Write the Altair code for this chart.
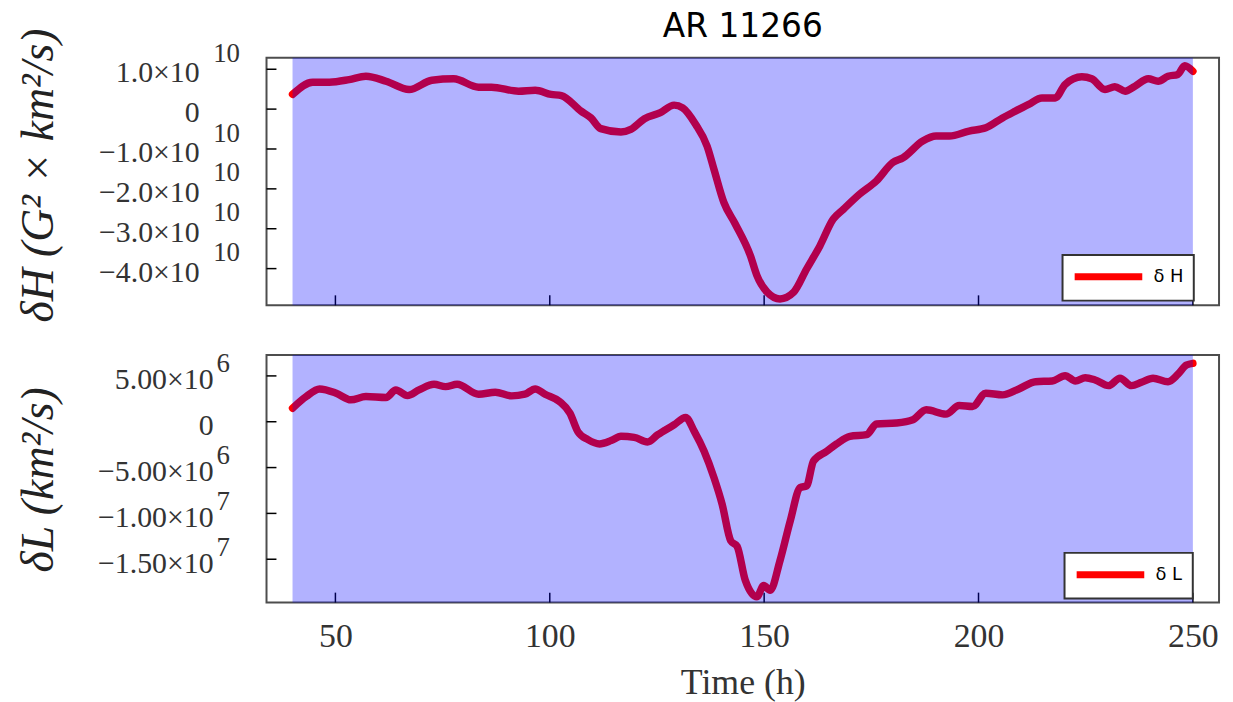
import altair as alt
import pandas as pd

# ---------------- data ----------------
time_h = [40.0, 44.7, 48.6, 53.2, 57.1, 61.8, 67.2, 72.5, 77.6, 83.4,
          86.4, 92.7, 96.6, 100.3, 102.7, 107.3, 109.6, 111.9, 116.6, 118.9,
          122.1, 125.8, 129.0, 131.0, 134.0, 136.7, 138.3, 140.6, 143.2, 146.8,
          148.3, 150.7, 153.7, 156.9, 159.9, 163.0, 166.1, 168.5, 172.3, 176.2,
          180.0, 182.4, 187.0, 190.1, 193.2, 197.8, 201.7, 205.6, 208.6, 211.7,
          214.8, 217.9, 220.2, 224.1, 226.4, 229.5, 231.8, 234.2, 236.5, 239.6,
          241.9, 244.2, 246.5, 248.1, 250.0]
delta_h = [0.37e10, 0.675e10, 0.675e10, 0.74e10, 0.825e10, 0.70e10, 0.49e10, 0.725e10, 0.76e10, 0.55e10,
           0.55e10, 0.45e10, 0.475e10, 0.37e10, 0.34e10, -0.05e10, -0.22e10, -0.49e10, -0.575e10, -0.51e10,
           -0.24e10, -0.09e10, 0.10e10, 0.03e10, -0.38e10, -0.93e10, -1.51e10, -2.34e10, -2.87e10, -3.68e10,
           -4.17e10, -4.59e10, -4.76e10, -4.59e10, -4.01e10, -3.43e10, -2.76e10, -2.51e10, -2.13e10, -1.80e10,
           -1.34e10, -1.22e10, -0.80e10, -0.675e10, -0.675e10, -0.55e10, -0.47e10, -0.22e10, -0.05e10, 0.12e10,
           0.28e10, 0.28e10, 0.62e10, 0.81e10, 0.76e10, 0.49e10, 0.56e10, 0.45e10, 0.575e10, 0.76e10,
           0.70e10, 0.825e10, 0.87e10, 1.09e10, 0.95e10]

time_l = [40.0, 43.2, 46.3, 50.2, 53.6, 57.1, 61.8, 64.1, 66.8, 69.5,
          73.0, 75.7, 78.4, 83.4, 87.3, 91.1, 94.2, 96.6, 98.9, 102.3,
          104.7, 106.6, 108.9, 111.6, 114.3, 116.6, 119.7, 122.8, 125.2, 129.0,
          131.7, 133.7, 136.0, 138.3, 140.2, 142.2, 143.7, 145.6, 148.3, 149.9,
          151.4, 153.7, 156.1, 158.4, 159.9, 161.5, 164.6, 166.9, 170.0, 173.9,
          176.2, 180.8, 184.7, 187.8, 192.4, 195.5, 198.6, 201.7, 205.6, 209.4,
          213.3, 217.2, 220.2, 222.6, 224.9, 227.2, 230.3, 233.0, 235.7, 238.0,
          240.7, 244.2, 246.5, 248.5, 250.0]
delta_l = [1.48e6, 2.75e6, 3.58e6, 3.11e6, 2.39e6, 2.75e6, 2.64e6, 3.47e6, 2.85e6, 3.47e6,
           4.09e6, 3.83e6, 4.09e6, 3.00e6, 3.22e6, 2.82e6, 3.00e6, 3.58e6, 3.00e6, 2.20e6,
           0.94e6, -1.12e6, -1.95e6, -2.42e6, -2.06e6, -1.59e6, -1.70e6, -2.20e6, -1.41e6, -0.33e6,
           0.47e6, -1.05e6, -3.22e6, -6.10e6, -9.00e6, -12.98e6, -13.6e6, -17.3e6, -19.1e6, -17.86e6,
           -18.4e6, -15.15e6, -10.8e6, -7.19e6, -7.0e6, -4.3e6, -3.22e6, -2.42e6, -1.59e6, -1.41e6,
           -0.25e6, -0.14e6, 0.22e6, 1.30e6, 0.83e6, 1.77e6, 1.66e6, 3.11e6, 2.93e6, 3.58e6,
           4.37e6, 4.45e6, 5.02e6, 4.45e6, 4.80e6, 4.56e6, 3.94e6, 4.74e6, 3.94e6, 4.30e6,
           4.74e6, 4.37e6, 5.17e6, 6.18e6, 6.37e6]

band_start = [40]
band_end = [250]

x_ticks = [50, 100, 150, 200, 250]
h_ticks = [1e10, 0, -1e10, -2e10, -3e10, -4e10]
h_tick_main = ["1.0×10", "0", "−1.0×10", "−2.0×10", "−3.0×10", "−4.0×10"]
h_tick_exp = ["10", "", "10", "10", "10", "10"]
l_ticks = [5e6, 0, -5e6, -1e7, -1.5e7]
l_tick_main = ["5.00×10", "0", "−5.00×10", "−1.00×10", "−1.50×10"]
l_tick_exp = ["6", "", "6", "7", "7"]

# ---------------- layout constants ----------------
W, H = 958, 249
X_DOMAIN = [33.93, 256.1]
SERIF = "Liberation Serif"


def label_expr(ticks, mains):
    expr = "''"
    for v, m in reversed(list(zip(ticks, mains))):
        expr = f"abs(datum.value - ({float(v)!r})) < 1 ? '{m}' : ({expr})"
    return expr


def panel(times, vals, name, ydomain, yticks, mains, exps, lab_off, lab_pad,
          exp_x, exp_dy, ytitle, title_y, legend_x, legend_y, show_x_labels):
    xscale = alt.Scale(domain=X_DOMAIN, nice=False, zero=False)
    yscale = alt.Scale(domain=ydomain, nice=False, zero=False)
    if show_x_labels:
        xaxis = alt.Axis(values=x_ticks, ticks=False, tickSize=0, domain=False, grid=False,
                         labelFont=SERIF, labelFontSize=34, labelColor="#333333",
                         labelPadding=17, title="Time (h)", titleFont=SERIF,
                         titleFontSize=36, titleFontWeight="normal", titleColor="#333333",
                         titlePadding=12)
    else:
        xaxis = alt.Axis(values=x_ticks, ticks=False, tickSize=0, domain=False, grid=False,
                         labels=False, title=None)
    yaxis = alt.Axis(values=yticks, labelExpr=label_expr(yticks, mains), labelFont=SERIF,
                     labelFontSize=30, labelColor="#333333", labelOffset=lab_off,
                     labelPadding=lab_pad,
                     labelOverlap=False, ticks=False, tickSize=0, domain=False, grid=False,
                     title=ytitle, titleFont=SERIF, titleFontStyle="italic", titleFontSize=46,
                     titleFontWeight="normal", titleColor="#222222", titleX=-229.7,
                     titleY=title_y, titleAngle=270, titleAlign="center",
                     titleBaseline="middle")

    df = pd.DataFrame({"t": times, "v": vals, "series": name})
    ytick_df = pd.DataFrame({"v": yticks})
    xtick_df = pd.DataFrame({"t": x_ticks})
    band_df = pd.DataFrame({"t": band_start, "t2": band_end})
    exp_df = pd.DataFrame({"v": [v for v, e in zip(yticks, exps) if e],
                           "exp": [e for e in exps if e]})

    ytick_layer = alt.Chart(ytick_df).mark_rule(color="black", strokeWidth=1.5).encode(
        y=alt.Y("v:Q", scale=yscale, axis=yaxis),
        x=alt.value(0), x2=alt.value(10))
    xtick_layer = alt.Chart(xtick_df).mark_rule(color="black", strokeWidth=1.5).encode(
        x=alt.X("t:Q", scale=xscale, axis=xaxis),
        y=alt.value(H), y2=alt.value(H - 10))
    exp_layer = alt.Chart(exp_df).mark_text(
        align="right", baseline="middle", dy=exp_dy, font=SERIF, fontSize=27,
        color="#333333").encode(
        y=alt.Y("v:Q", scale=yscale, axis=yaxis),
        x=alt.value(exp_x), text="exp:N")
    line = alt.Chart(df).mark_line(strokeWidth=7.5, strokeCap="round", strokeJoin="round",
                                   interpolate="monotone").encode(
        x=alt.X("t:Q", scale=xscale, axis=xaxis),
        y=alt.Y("v:Q", scale=yscale, axis=yaxis),
        color=alt.Color("series:N",
                        scale=alt.Scale(domain=[name], range=["#ff0000"]),
                        legend=alt.Legend(title=None, orient="none", legendX=legend_x,
                                          legendY=legend_y, fillColor="white",
                                          strokeColor="#333333", padding=10,
                                          symbolType="M-1.153,0H6.847", symbolSize=289,
                                          symbolStrokeWidth=7, symbolStrokeColor="#ff0000",
                                          labelFont="DejaVu Sans", labelFontSize=18,
                                          labelColor="black", labelOffset=57.4,
                                          cornerRadius=0)))
    band = alt.Chart(band_df).mark_rect(color="#0000ff", opacity=0.3).encode(
        x=alt.X("t:Q", scale=xscale, axis=xaxis), x2="t2:Q",
        y=alt.value(0), y2=alt.value(H))
    return alt.layer(ytick_layer, xtick_layer, exp_layer, line, band).properties(
        width=W, height=H)


top = panel(time_h, delta_h, "δ H", [-4.92e10, 1.289e10], h_ticks, h_tick_main, h_tick_exp,
            3.5, 67.7, -26.7, -15.5, "δH (G² × km²/s)", 118, 800.6, 198.3, False).properties(
    title=alt.TitleParams("AR 11266", font="DejaVu Sans", fontSize=33,
                          fontWeight="normal", color="black", anchor="middle",
                          frame="group", baseline="alphabetic", offset=-42.2))

bottom = panel(time_l, delta_l, "δ L", [-19.73e6, 7.28e6], l_ticks, l_tick_main, l_tick_exp,
               4, 53.7, -36.7, -11.5, "δL (km²/s)", 125, 802.6, 199, True)

chart = alt.vconcat(top, bottom, spacing=50, bounds="flush").resolve_scale(
    color="independent").configure_view(stroke="#4d4d4d", strokeWidth=2).configure_legend(
    strokeWidth=2).properties(
    padding={"left": 6, "top": 0, "right": 5, "bottom": 2}, background="white")

chart.save("out.html", embed_options={"renderer": "svg", "actions": False})
